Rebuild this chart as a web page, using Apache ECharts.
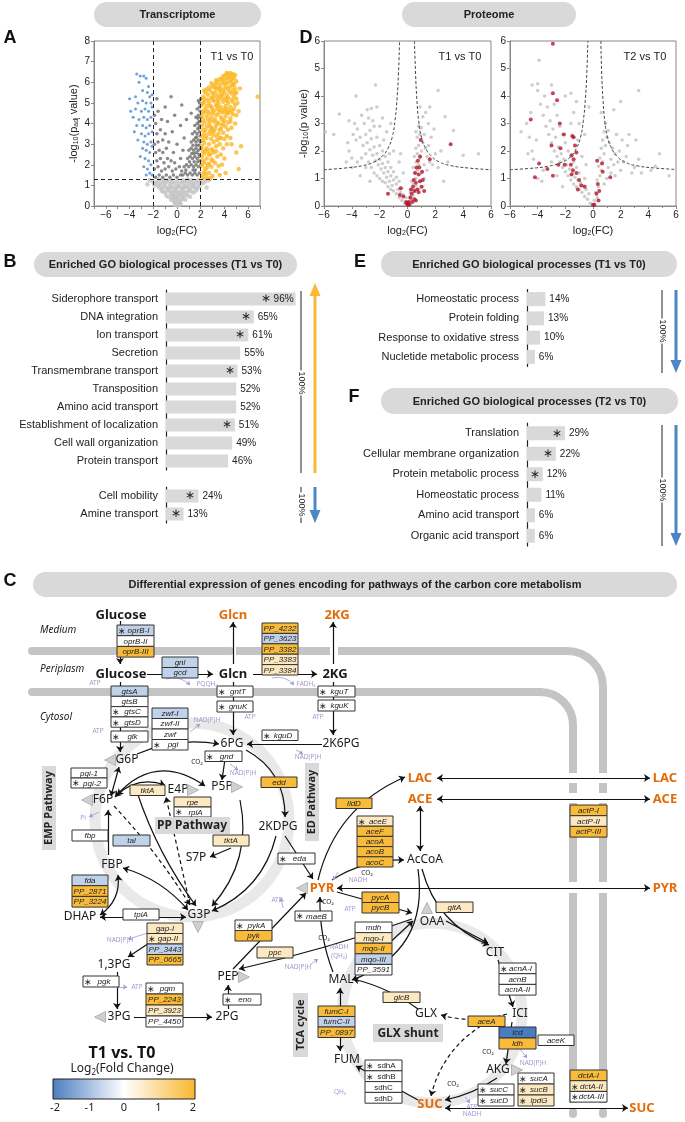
<!DOCTYPE html>
<html>
<head>
<meta charset="utf-8">
<script src="https://cdn.jsdelivr.net/npm/echarts@6/dist/echarts.min.js"></script>
<style>
html, body { margin: 0; padding: 0; background: #fff; }
#chart { width: 685px; height: 1122px; }
</style>
</head>
<body>
<div id="chart"></div>
<script>
const FONT = '"Liberation Sans", Arial, sans-serif';
const DFONT = '"Noto Sans", "Open Sans", sans-serif';

// ---------- A: transcriptome volcano, T1 vs T0 (log2FC, -log10 padj)
const aLight = [[-0.2,0.05],[0,0.02],[0.2,0.05],[0.1,0.12],[-0.1,0.15],[0.3,0.1],[0,0.4],[0.2,0.2],
  [-0.5,0.3],[-0.3,0.25],[-0.1,0.35],[0.1,0.3],[0.3,0.28],[0.5,0.35],[0.7,0.3],
  [-0.9,0.5],[-0.7,0.45],[-0.5,0.55],[-0.3,0.5],[-0.1,0.45],[0.1,0.55],[0.3,0.5],[0.5,0.45],[0.7,0.55],[0.9,0.5],[1.1,0.45],
  [-1.2,0.7],[-1.0,0.65],[-0.8,0.75],[-0.6,0.7],[-0.4,0.65],[-0.2,0.75],[0,0.7],[0.2,0.65],[0.4,0.75],[0.6,0.7],[0.8,0.65],[1.0,0.75],[1.2,0.7],[1.4,0.65],[-0.2,0.6],
  [-1.5,0.9],[-1.3,0.85],[-1.1,0.95],[-0.9,0.9],[-0.7,0.85],[-0.5,0.95],[-0.3,0.9],[-0.1,0.85],[0.1,0.95],[0.3,0.9],[0.5,0.85],[0.7,0.95],[0.9,0.9],[1.1,0.85],[1.3,0.95],[1.5,0.9],[1.7,0.85],
  [-2.0,1.15],[-1.8,1.1],[-1.6,1.2],[-1.4,1.05],[-1.2,1.15],[-1.0,1.1],[-0.8,1.2],[-0.6,1.05],[-0.4,1.15],[-0.2,1.1],[0,1.2],[0.2,1.05],[0.4,1.15],[0.6,1.1],[0.8,1.2],[1.0,1.05],[1.2,1.15],[1.4,1.1],[1.6,1.2],[1.8,1.05],[2.0,1.15],[2.2,1.1],[2.4,1.2],
  [-2.3,1.25],[2.7,1.25],[-1.9,1.0],[1.9,0.95],[-1.3,0.75],[1.6,0.75],[2.5,0.9],[-2.5,1.05],[0.5,1.25],[-0.5,1.25],[1.2,1.25],[-1.2,1.28],
  [-0.4,0.4],[0.4,0.6],[-0.6,0.85],[0.6,0.95],[-1.6,1.0],[1.4,1.0],[-0.9,1.25],[0.9,1.28],[0,0.95],[-0.2,0.25],[1.8,1.25],[-1.5,1.28]];
const aDark = [[0.5,1.5],[0.7,1.6],[0.9,1.5],[1.1,1.6],[1.3,1.5],[1.5,1.6],[1.7,1.5],[1.9,1.6],
  [0.6,1.9],[0.8,2.0],[1.0,1.9],[1.2,2.0],[1.4,1.9],[1.6,2.0],[1.8,1.9],[2.0,2.0],
  [0.9,2.3],[1.1,2.4],[1.3,2.3],[1.5,2.4],[1.7,2.3],[1.9,2.4],
  [1.0,2.7],[1.2,2.8],[1.4,2.7],[1.6,2.8],[1.8,2.7],[2.0,2.8],
  [1.2,3.1],[1.4,3.2],[1.6,3.1],[1.8,3.2],[1.95,3.1],[1.3,3.5],[1.5,3.6],[1.7,3.5],[1.9,3.6],
  [1.5,3.9],[1.7,4.0],[1.9,3.9],[1.6,4.3],[1.8,4.4],[2.0,4.3],[1.7,4.7],[1.9,4.8],[1.8,5.1],[2.0,5.2],
  [1.95,4.6],[1.85,4.1],[1.55,3.3],[1.25,2.55],[0.75,1.75],[1.45,2.15],[1.65,2.6],[1.85,2.95],[1.75,3.75],[1.35,1.75],[1.05,2.15],
  [1.55,1.75],[1.75,2.15],[1.95,2.2],[1.45,2.55],[1.85,2.5],[1.65,2.95],[1.35,2.95],[1.95,3.4],[1.65,3.35],[1.85,3.8],[1.95,4.1],[1.75,4.25],[1.9,5.0],
  [-1.8,1.4],[-1.5,1.5],[-1.2,1.4],[-0.9,1.5],[-0.6,1.4],[-0.3,1.5],[0.0,1.4],[0.3,1.5],
  [-1.9,1.8],[-1.6,1.9],[-1.3,1.7],[-1.0,1.8],[-0.7,1.9],[-0.4,1.7],[-0.1,1.8],[0.2,1.9],[0.4,1.7],
  [-1.7,2.2],[-1.4,2.3],[-1.1,2.1],[-0.8,2.3],[-0.5,2.2],[-0.2,2.1],[0.3,2.3],
  [-1.8,2.6],[-1.5,2.7],[-1.2,2.6],[-0.9,2.8],[-0.3,2.6],[0.5,2.7],
  [-1.9,3.0],[-1.6,3.1],[-1.2,3.2],[-0.7,3.1],[0.0,3.0],[0.6,3.3],
  [-1.7,3.5],[-1.4,3.7],[-1.0,3.5],[-0.4,3.6],[0.3,3.9],
  [-1.8,4.0],[-1.3,4.2],[-0.8,4.1],[-0.2,4.4],[0.8,4.2],[1.2,4.5],
  [-1.6,4.6],[-1.0,4.8],[-1.7,5.2],[-0.5,5.3],[0.4,4.9],[-1.9,4.4]];
const aBlue = [[-3.4,6.4],[-3.1,6.3],[-2.8,6.3],[-2.6,6.2],[-3.2,6.0],[-2.3,5.3],[-2.1,5.4],[-2.5,5.5],[-4.0,5.2],[-3.3,5.0],
  [-2.9,5.1],[-2.6,5.0],[-2.2,5.0],[-3.5,4.7],[-3.0,4.6],[-2.7,4.7],[-2.4,4.6],[-2.1,4.8],[-3.7,4.3],[-3.2,4.2],
  [-2.8,4.3],[-2.5,4.2],[-2.2,4.3],[-3.4,3.9],[-2.9,3.9],[-2.6,3.8],[-2.3,3.9],[-3.6,3.6],[-3.0,3.5],[-2.7,3.4],
  [-2.4,3.5],[-2.1,3.6],[-3.3,3.2],[-2.8,3.1],[-2.5,3.0],[-2.2,3.1],[-2.9,2.8],[-2.6,2.7],[-2.3,2.6],[-2.1,2.9],
  [-3.1,2.4],[-2.7,2.3],[-2.4,2.2],[-2.2,2.0],[-2.5,1.8],[-2.8,1.9],[-2.3,1.6],[-2.1,1.5],[-2.6,1.5],[-3.9,4.6],
  [-3.5,5.3],[-2.4,5.8],[-2.9,5.6]];
const aYellow = [[3.9,6.3],[4.1,6.35],[4.3,6.4],[4.5,6.45],[4.7,6.4],[4.9,6.35],[4.4,6.25],[4.6,6.3],[4.8,6.2],[4.2,6.2],[3.6,6.15],[4.0,6.1],
  [3.0,5.8],[3.2,5.9],[3.4,6.0],[3.6,5.85],[3.8,6.0],[4.0,5.9],[4.2,5.95],[4.4,6.05],[4.6,6.0],[4.8,5.9],[5.0,6.05],[3.3,5.7],[3.7,5.7],[4.1,5.75],[4.5,5.8],[4.9,5.7],[2.7,5.75],
  [2.2,5.3],[2.4,5.5],[2.6,5.4],[2.8,5.6],[3.0,5.45],[3.2,5.5],[3.4,5.35],[3.6,5.55],[3.8,5.4],[4.0,5.5],[4.2,5.35],[4.4,5.55],[4.6,5.45],[4.8,5.3],[5.0,5.5],[2.3,5.2],[2.9,5.25],[3.5,5.2],[4.1,5.2],[4.7,5.6],
  [2.1,4.9],[2.3,5.05],[2.5,4.85],[2.7,5.0],[2.9,4.8],[3.1,5.1],[3.3,4.9],[3.5,5.0],[3.7,4.8],[3.9,5.05],[4.1,4.85],[4.3,5.0],[4.5,4.8],[4.7,5.05],[4.9,4.9],[5.1,5.0],[2.4,4.7],[3.0,4.7],[3.6,4.65],[4.2,4.7],[4.8,4.7],
  [2.1,4.4],[2.3,4.55],[2.5,4.35],[2.7,4.5],[2.9,4.3],[3.1,4.6],[3.3,4.4],[3.5,4.5],[3.7,4.3],[3.9,4.55],[4.1,4.35],[4.3,4.5],[4.5,4.25],[4.7,4.45],[5.0,4.4],[2.6,4.2],[3.2,4.2],[3.8,4.2],[4.4,4.6],
  [2.1,3.9],[2.3,4.05],[2.5,3.85],[2.7,4.0],[2.9,3.8],[3.1,4.1],[3.3,3.9],[3.5,4.0],[3.7,3.75],[3.9,4.0],[4.1,3.85],[4.3,4.05],[4.6,3.8],[4.9,4.0],[2.4,3.7],[3.0,3.7],[3.6,3.7],
  [2.1,3.4],[2.3,3.55],[2.5,3.3],[2.7,3.5],[2.9,3.25],[3.1,3.6],[3.3,3.4],[3.5,3.5],[3.7,3.3],[3.9,3.55],[4.2,3.4],[4.5,3.3],[2.2,3.2],[2.8,3.65],[3.4,3.2],
  [2.1,2.9],[2.3,3.05],[2.5,2.8],[2.7,3.0],[2.9,2.75],[3.1,3.1],[3.3,2.9],[3.6,3.0],[3.9,2.8],[4.2,3.0],[4.6,3.0],[5.4,2.9],[2.4,2.7],[3.0,2.7],
  [2.1,2.4],[2.3,2.55],[2.5,2.3],[2.7,2.5],[2.9,2.25],[3.1,2.6],[3.4,2.4],[3.7,2.5],[4.0,2.3],[2.2,2.2],[2.6,2.65],[5.0,2.6],
  [2.1,1.95],[2.3,2.1],[2.5,1.85],[2.7,2.05],[2.9,1.9],[3.2,2.1],[3.5,1.95],[3.8,2.0],[5.2,1.8],[2.4,1.8],
  [2.1,1.5],[2.3,1.65],[2.5,1.4],[2.7,1.6],[3.0,1.45],[3.3,1.7],[3.6,1.5],[2.2,1.35],[2.8,1.35],[4.1,1.6],
  [2.2,5.0],[2.6,5.15],[3.0,5.15],[3.4,5.1],[3.8,5.2],[4.2,5.1],[4.6,5.15],[5.0,5.2],[2.2,4.6],[2.6,4.6],[3.0,4.5],[3.4,4.7],
  [3.8,4.6],[4.2,4.55],[4.6,4.6],[2.2,4.2],[2.8,4.15],[3.4,4.05],[4.0,4.15],[4.5,4.1],[2.2,3.7],[2.8,3.85],[3.2,3.75],[3.8,3.9],
  [4.3,3.7],[2.4,3.4],[3.0,3.45],[3.6,3.3],[4.0,3.25],[2.2,2.65],[2.8,2.5],[3.3,2.65],[2.6,2.0],[3.0,2.2],[2.4,1.55],[3.2,5.75],
  [3.5,5.7],[3.9,5.6],[4.3,5.7],[4.7,5.85],[3.1,5.3],[3.7,5.35],[4.3,5.25],[4.9,5.45],[3.8,6.2],[4.2,6.45],[4.6,6.15],[2.5,5.65],
  [2.9,5.95],[3.3,6.1],[2.3,5.6],[4.0,4.7],[3.4,4.85],[2.8,4.85],
  [6.8,5.3],[5.3,5.7],[5.2,4.6]];
const aCuts = { fcLow: -2, fcHigh: 2, p: 1.3 };

// ---------- D: proteome volcanoes (log2FC, -log10 p)
const d1Gray = [[-0.2,0.1],[0.1,0.15],[-0.4,0.2],[0.3,0.2],[-0.1,0.3],[0.2,0.35],[-0.6,0.3],[-0.3,0.4],[0.4,0.4],
  [-0.8,0.45],[-0.5,0.5],[-1.0,0.55],[-0.7,0.6],[-1.2,0.6],[-0.4,0.65],[0.5,0.55],[0.3,0.6],[0.6,0.75],
  [-1.4,0.7],[-1.1,0.75],[-0.8,0.8],[-1.6,0.85],[-1.3,0.9],[-1.0,0.95],[-0.6,0.9],[-1.8,0.9],[-2.0,1.0],[-1.5,1.05],[-1.2,1.1],[-0.8,1.05],
  [-2.2,1.1],[-1.7,1.2],[-1.4,1.25],[-1.0,1.25],[-2.4,1.2],[-1.9,1.35],[-1.6,1.4],[-1.2,1.4],[-2.1,1.5],[-1.8,1.55],[-1.4,1.6],
  [-2.6,1.4],[-2.3,1.65],[-2.0,1.7],[-1.6,1.8],[-2.8,1.6],[-2.5,1.85],[-2.2,1.9],[-1.8,2.0],[-1.3,1.9],[-3.0,1.9],[-2.7,2.05],
  [-2.4,2.15],[-2.0,2.2],[-3.2,2.2],[-2.9,2.3],[-2.6,2.45],[-2.2,2.5],[-1.7,2.4],[-3.4,2.5],[-3.0,2.6],[-2.7,2.75],[-2.4,2.9],
  [-3.6,2.8],[-3.1,3.0],[-2.8,3.2],[-2.5,3.1],[-3.3,3.3],[-2.9,3.5],[-2.6,3.55],[-3.8,3.0],[-4.2,2.0],[-4.0,1.75],[-3.6,1.6],
  [-3.3,1.75],[-4.3,2.3],[-3.7,2.4],[-4.4,1.6],[-3.9,2.6],[-2.0,2.9],[-1.5,2.7],[-1.0,2.0],[-0.6,1.6],[-0.3,1.2],[-0.5,1.9],
  [-1.2,3.0],[-1.8,3.2],[-2.2,3.6],[-2.3,4.4],[-3.7,4.0],[-5.3,2.6],[-5.9,2.7],[-4.9,3.35],[-4.2,3.1],[-4.0,1.4],[-3.0,1.4],
  [-2.7,0.9],[-3.4,1.1],
  [0.2,0.5],[0.4,0.8],[0.6,1.0],[0.3,0.9],[0.5,1.2],[0.7,1.3],[0.4,1.4],[0.6,1.6],[0.8,1.5],[0.5,1.8],[0.7,1.9],[0.9,1.75],
  [0.6,2.1],[0.8,2.2],[1.0,2.0],[0.7,2.5],[0.9,2.6],[1.1,2.3],[0.8,2.9],[1.0,2.85],[0.6,2.7],[1.2,2.6],[1.3,2.1],[1.5,2.2],
  [1.4,1.8],[1.6,1.6],[1.2,1.5],[1.0,1.2],[0.9,0.9],[1.2,1.0],[1.4,1.3],[0.8,0.6],[1.1,0.7],[0.3,0.3],[1.8,1.5],[2.0,1.9],
  [1.7,2.5],[1.9,2.8],[2.2,1.4],[2.4,2.0],[1.5,3.0],[2.2,4.2],[1.6,3.6],[2.7,3.25],[3.3,2.75],[5.1,1.9],[4.0,1.85],[2.9,1.6],
  [2.6,0.9],[1.3,3.4],[1.1,3.25],[0.9,3.6]];
const d1Red = [[0.0,0.05],[-0.05,0.1],[0.05,0.08],[0.1,0.15],[-0.1,0.15],[0.15,0.05],[0.2,0.3],[0.3,0.45],[0.25,0.6],[0.4,0.7],
  [0.5,0.55],[0.45,0.95],[0.55,1.2],[0.6,0.85],[0.7,0.6],[0.65,1.4],[0.8,1.15],[0.75,1.65],[0.85,1.4],[0.9,1.8],[0.95,2.4],
  [0.9,0.9],[1.1,0.95],[1.0,0.7],[1.2,0.55],[0.5,0.25],[0.8,0.5],[-0.3,0.35],[-0.5,0.65],[-0.55,0.4],[-1.4,0.45],[1.6,1.7],
  [3.1,2.25],[0.6,0.2],[0.35,0.15],[1.05,1.25]];
const d1CutL = [[-6,1.32],[-4.5,1.38],[-3.2,1.47],[-2.4,1.6],[-1.8,1.82],[-1.4,2.1],[-1.1,2.5],[-0.9,3.1],[-0.75,3.9],[-0.65,4.8],[-0.57,6]];
const d1CutR = [[0.5,6],[0.58,4.8],[0.67,3.9],[0.8,3.1],[1.0,2.5],[1.3,2.1],[1.7,1.82],[2.3,1.6],[3.1,1.47],[4.4,1.38],[6,1.32]];
const d2Gray = [[-0.2,0.1],[0.1,0.2],[-0.4,0.25],[0.3,0.3],[-0.6,0.35],[-0.3,0.45],[-0.8,0.5],[-0.5,0.6],[-1.0,0.6],[-0.7,0.75],
  [-1.2,0.7],[-0.9,0.85],[-1.4,0.8],[-1.1,0.95],[-0.6,1.0],[-1.6,0.95],[-1.3,1.05],[-1.8,1.1],[-1.5,1.2],[-1.0,1.2],[-2.0,1.25],
  [-1.7,1.35],[-1.2,1.4],[-2.2,1.4],[-1.9,1.5],[-1.4,1.6],[-2.4,1.6],[-2.1,1.7],[-1.6,1.8],[-2.6,1.8],[-2.3,1.9],[-1.8,2.0],
  [-2.8,2.0],[-2.5,2.15],[-2.0,2.3],[-3.0,2.3],[-2.7,2.5],[-2.2,2.6],[-3.2,2.6],[-2.9,2.8],[-2.4,2.9],[-3.4,2.9],[-3.1,3.1],
  [-2.6,3.3],[-3.6,3.3],[-3.3,3.6],[-2.8,3.7],[-3.8,3.7],[-3.5,4.0],[-4.0,4.2],[-1.4,3.4],[-1.6,3.0],[-1.1,2.4],[-0.8,1.8],
  [-0.5,1.5],[-1.0,3.0],[-0.6,2.6],[-1.2,3.8],[-3.9,5.3],[-4.4,4.4],[-4.0,4.45],[-3.0,4.4],[-2.0,4.0],[-4.8,3.0],[-5.2,2.7],
  [-4.6,2.5],[-4.4,2.0],[-4.3,1.7],[-4.0,1.0],[-3.6,1.3],[-3.0,1.6],[-2.6,1.1],[-4.7,1.9],[-4.1,2.4],[-3.7,0.9],[-2.2,0.7],
  [-4.5,3.4],[-0.3,3.6],[-1.6,4.1],
  [0.2,0.5],[0.4,0.7],[0.3,0.95],[0.5,1.1],[0.6,1.3],[0.4,1.45],[0.7,1.6],[0.5,1.75],[0.8,1.9],[0.6,2.1],[0.9,2.2],[0.7,2.4],
  [1.0,2.5],[0.8,2.7],[1.1,2.75],[0.9,3.0],[1.2,2.3],[1.4,2.1],[1.6,1.9],[1.3,1.7],[1.5,1.5],[1.8,1.6],[1.1,1.4],[1.0,1.0],
  [1.3,1.2],[0.8,0.8],[1.6,1.1],[2.0,1.3],[1.9,2.0],[2.2,1.6],[2.4,1.8],[2.1,2.4],[2.5,2.2],[1.7,2.6],[2.6,2.6],[2.8,1.2],
  [3.0,1.4],[3.3,1.7],[3.5,1.2],[2.0,3.8],[3.3,4.2],[3.1,2.4],[4.2,1.3],[4.8,1.9],[5.5,1.1],[4.5,1.45],[1.5,3.5],[0.6,3.4]];
const d2Red = [[-2.9,5.9],[-2.9,4.1],[-2.6,3.85],[-4.5,3.15],[-2.4,3.0],[-2.1,2.6],[-1.5,2.55],[-1.4,2.5],[-3.0,2.2],[-2.35,2.1],
  [-1.3,2.2],[-1.2,1.95],[-1.55,1.85],[-1.4,1.7],[-3.9,1.55],[-2.05,1.5],[-1.6,1.5],[-2.5,1.5],[-3.3,1.35],[-1.45,1.3],
  [-1.55,1.15],[-2.9,1.1],[-4.2,1.05],[-1.2,1.2],[-1.0,0.95],[-0.85,0.75],[-0.6,0.7],[-1.1,0.6],[0.0,0.05],[0.1,0.05],
  [0.25,0.45],[0.35,0.8],[0.45,0.55],[0.65,1.55],[0.7,1.25],[0.3,1.65],[1.25,1.05],[0.4,0.2]];
const d2CutL = [[-6,1.32],[-4.5,1.37],[-3.2,1.45],[-2.3,1.58],[-1.6,1.8],[-1.2,2.1],[-0.9,2.5],[-0.7,3.1],[-0.55,3.9],[-0.45,4.8],[-0.37,6]];
const d2CutR = [[0.57,6],[0.63,4.8],[0.72,3.9],[0.85,3.1],[1.05,2.5],[1.35,2.1],[1.75,1.8],[2.4,1.58],[3.2,1.46],[4.5,1.38],[6,1.33]];

// ---------- B, E, F: enriched GO processes (%), star = significant
const bUpNames = ['Siderophore transport','DNA integration','Ion transport','Secretion','Transmembrane transport','Transposition','Amino acid transport','Establishment of localization','Cell wall organization','Protein transport'];
const bUpValues = [96,65,61,55,53,52,52,51,49,46];
const bUpStar = [1,1,1,0,1,0,0,1,0,0];
const bDownNames = ['Cell mobility','Amine transport'];
const bDownValues = [24,13];
const bDownStar = [1,1];
const eNames = ['Homeostatic process','Protein folding','Response to oxidative stress','Nucletide metabolic process'];
const eValues = [14,13,10,6];
const eStar = [0,0,0,0];
const fNames = ['Translation','Cellular membrane organization','Protein metabolic process','Homeostatic process','Amino acid transport','Organic acid transport'];
const fValues = [29,22,12,11,6,6];
const fStar = [1,1,1,0,0,0];

// ---------- C: genes per reaction box and their log2 fold change (T1 vs T0)
const geneGroups = [
  ['*oprB-I','oprB-II','oprB-III'], ['gnl','gcd'], ['PP_4232','PP_3623','PP_3382','PP_3383','PP_3384'],
  ['gtsA','gtsB','*gtsC','*gtsD'], ['*glk'], ['zwf-I','zwf-II','zwf','*pgl'],
  ['*gntT'], ['*gnuK'], ['*kguT'], ['*kguK'], ['*kguD'], ['*gnd'],
  ['pgi-1','*pgi-2'], ['tktA'], ['rpe','*rpiA'], ['edd'], ['lldD'], ['*aceE','aceF','acoA','acoB','acoC'],
  ['fbp'], ['tal'], ['tktA'], ['*eda'], ['fda','PP_2871','PP_3224'], ['tpiA'],
  ['gap-I','*gap-II','PP_3443','PP_0665'], ['*pgk'], ['*pgm','PP_2243','PP_3923','PP_4450'],
  ['*pykA','pyk'], ['ppc'], ['*eno'], ['*maeB'], ['pycA','pycB'], ['gltA'],
  ['mdh','mqo-I','mqo-II','mqo-III','PP_3591'], ['*acnA-I','acnB','acnA-II'], ['glcB'], ['aceA'],
  ['icd','ldh'], ['aceK'], ['fumC-I','fumC-II','PP_0897'], ['*sdhA','*sdhB','sdhC','sdhD'],
  ['*sucC','*sucD'], ['*sucA','*sucB','*lpdG'], ['actP-I','actP-II','actP-III'], ['dctA-I','*dctA-II','*dctA-III']
];
const geneFC = [
  [-0.7,0,1.9], [-0.7,-0.7], [1.9,-0.7,1.9,0.6,0.6],
  [-0.7,0,0,0], [0], [-0.7,0,0,0],
  [0], [0], [0], [0], [0], [0],
  [0,0], [0.6], [0.6,0], [1.9], [1.9], [0.6,1.9,1.9,1.9,1.9],
  [0], [-0.7], [0.6], [0], [-0.7,1.9,1.9], [0],
  [0.6,0.6,-0.7,1.9], [0], [0,1.9,0.6,0],
  [0,1.9], [0.6], [0], [0], [1.9,1.9], [0.6],
  [0,0.6,1.9,-0.7,0], [0,0,0], [0.6], [1.9],
  [-2,1.9], [0], [1.9,-0.7,1.9], [0,0,0,0],
  [0,0], [0,0.6,0.6], [1.9,0.6,1.9], [1.9,0.6,0]
];
const legendTicks = [-2,-1,0,1,2];
const FC_BLUE = '#4a7dc0', FC_MID = '#ffffff', FC_ORANGE = '#f9b730';

// ---------- diagram layout (pixel positions of the drawing)
const boxLayout = [ // x, y, width, row height
  [117,625,37,10.7],[162,657,36,10.5],[262,623,36,10.4],[111,686,37,10.3],[111,731,37,11],[152,708,36,10.5],
  [217,686,36,11],[217,701,36,11],[318,686,37,11],[318,700,37,11],[262,730,36,10.5],[205,751,37,10.5],
  [71,768,36,10],[130,785,35,10.5],[174,797,37,10],[261,777,36,10.5],[336,798,36,10.5],[357,816,36,10.2],
  [72,830,36,11],[113,835,37,11],[213,835,36,11],[278,853,37,11],[72,875,36,10.7],[123,909,36,11],
  [147,923,36,10.5],[83,976,36,11],[146,983,37,11],[235,920,37,10.5],[257,947,36,11],[223,994,38,11],
  [295,911,37,10],[362,892,37,10.5],[436,902,37,10.5],[355,922,37,10.6],[499,963,37,10.7],[383,992,37,10.5],
  [468,1016,37,10.5],[499,1027,37,11],[538,1035,36,10.5],[318,1006,37,10.5],[365,1060,37,10.8],[478,1084,36,11],
  [518,1073,36,11],[570,805,37,10.7],[570,1070,37,10.7]
];
const uprightGenes = ['sdhA','sdhB','sdhC','sdhD'];
const metabolites = [
  ['Glucose',121,615,'b'],['Glcn',233,615,'o'],['2KG',337,615,'o'],
  ['Glucose',121,674,'b'],['Glcn',233,674,'b'],['2KG',335,674,'b'],
  ['6PG',232,744,'n'],['2K6PG',341,744,'n'],['G6P',127,760,'n'],['F6P',103,800,'n'],
  ['E4P',178,790,'n'],['P5P',222,787,'n'],['2KDPG',278,827,'n'],['S7P',196,858,'n'],
  ['FBP',112,865,'n'],['G3P',199,915,'n'],['DHAP',80,917,'n'],['1,3PG',114,965,'n'],
  ['3PG',119,1017,'n'],['2PG',227,1017,'n'],['PEP',228,977,'n'],['PYR',322,888,'o'],
  ['LAC',420,778,'o'],['ACE',420,799,'o'],['LAC',665,778,'o'],['ACE',665,799,'o'],['PYR',665,888,'o'],
  ['AcCoA',425,860,'n'],['OAA',432,922,'n'],['CIT',495,953,'n'],['ICI',520,1014,'n'],
  ['AKG',498,1070,'n'],['GLX',426,1014,'n'],['MAL',341,980,'n'],['FUM',347,1060,'n'],
  ['SUC',430,1104,'o'],['SUC',642,1108,'o']
];
const triangles = [[110,760,'l'],[87,800,'l'],[193,790,'r'],[237,787,'r'],[198,927,'d'],[100,1017,'l'],[244,977,'r'],[302,888,'l'],[427,908,'u'],[517,1070,'r']];
const cofactors = [
  ['ATP',95,683,'p'],['PQQH₂',207,684,'p'],['FADH₂',306,684,'p'],['ATP',250,717,'p'],['ATP',318,717,'p'],['ATP',98,731,'p'],
  ['NAD(P)H',207,720,'p'],['NAD(P)H',308,757,'p'],['CO₂',197,762,'k'],['NAD(P)H',243,773,'p'],['Pi',83,818,'p'],
  ['NAD(P)H',120,940,'p'],['ATP',137,987,'p'],['ATP',277,900,'p'],['CO₂',328,902,'k'],['ATP',350,909,'p'],['CO₂',324,938,'k'],
  ['NADH',339,947,'p'],['(QH₂)',339,956,'p'],['NAD(P)H',298,967,'p'],['CO₂',367,873,'k'],['NADH',358,880,'p'],
  ['CO₂',488,1052,'k'],['NAD(P)H',533,1063,'p'],['CO₂',453,1084,'k'],['ATP',472,1107,'p'],['NADH',472,1114,'p'],['QH₂',340,1092,'p']
];
const arrowsOne = [ // x1, y1, x2, y2, curveness
  [120,621,120,664,0],[147,674,213,674,0],[233,664,233,622,0],[253,674,317,674,0],[333,664,333,622,0],
  [120,682,120,752,0],[233,682,233,735,0],[333,682,333,735,0],[322,744,247,744,0],[137,754,219,744,0.15],
  [226,752,222,780,0],[246,750,285,817,0.3],[285,836,313,879,0],[276,836,212,911,0.25],[240,800,212,906,0.25],
  [231,848,210,857,0],[137,792,196,906,-0.08],[108,855,108,810,0],[178,924,128,957,0],[117,972,117,1009,0],
  [134,1017,212,1017,0],[228,1009,228,985,0],[233,969,306,893,0],[412,919,239,969,0.03],[318,880,405,777,0.25],
  [332,880,404,860,0.15],[337,892,412,913,0],[333,972,320,897,0.1],[355,975,413,921,0],[418,869,352,980,0.4],
  [422,869,489,945,-0.25],[446,921,488,943,0],[498,960,513,1007,0],[512,1022,506,1064,0],[418,1009,353,979,-0.1],
  [497,1078,445,1100,0.1],[418,1100,356,1066,0]
];
const arrowsTwo = [
  [111,796,119,767,0],[117,795,165,785,0.3],[115,797,205,786,0.45],[123,868,188,910,0.15],[118,875,100,915,0.3],
  [100,917,186,917,0],[420,851,420,806,0],[437,778,650,778,0],[437,799,650,799,0],[337,888,650,888,0],
  [340,1051,340,988,0],[445,1108,628,1108,0]
];
const arrowsDash = [[114,806,190,905,0.05],[190,905,166,797,0],[507,1014,441,1015,0.15],[481,1026,431,1096,-0.2]];
const arrowsCofactor = [
  [166,679,190,685,0.3],[272,678,294,685,0.3],[190,732,200,724,0],[230,764,238,770,0],[296,750,303,754,0],
  [99,812,89,817,0],[148,933,128,939,0],[117,987,127,987,0],[283,908,281,898,0],[310,965,318,959,0],
  [338,872,333,880,0],[520,1049,527,1058,0],[465,1097,470,1103,0]
];

// ---------- helpers
const G = [];
function txt(t, x, y, o) {
  o = o || {};
  G.push({
    type: 'text', z: o.z || 60, x: x, y: y, rotation: o.rot || 0,
    style: {
      text: t, fill: o.fill || '#222', font: o.font || ('11px ' + FONT),
      align: o.align || 'center', textAlign: o.align || 'center',
      verticalAlign: 'middle', textVerticalAlign: 'middle',
      backgroundColor: o.bg, padding: o.pad, rich: o.rich
    }
  });
}
function rect(x, y, w, h, fill, r, z) {
  G.push({ type: 'rect', z: z || 1, shape: { x: x, y: y, width: w, height: h, r: r || 0 }, style: { fill: fill } });
}
function line(x1, y1, x2, y2, color, width, cap, z) {
  G.push({ type: 'line', z: z || 1, shape: { x1: x1, y1: y1, x2: x2, y2: y2 }, style: { stroke: color, lineWidth: width, lineCap: cap || 'butt' } });
}
function pill(x, y, w, h, text) {
  rect(x, y, w, h, '#d9d9d9', h / 2, 1);
  txt(text, x + w / 2, y + h / 2 + 0.5, { font: 'bold 11px ' + FONT });
}
function scaleBar(x, y1, y2, ty) {
  line(x, y1, x, y2, '#222', 1);
  txt('100%', x, ty, { font: '9px ' + FONT, rot: -Math.PI / 2, bg: '#fff', pad: [0, 1] });
}
function bigArrow(x, y1, y2, color) {
  const dir = y2 < y1 ? -1 : 1;
  line(x, y1, x, y2 - dir * 10, color, 3);
  G.push({ type: 'polygon', z: 1, shape: { points: [[x - 5.5, y2 - dir * 13], [x + 5.5, y2 - dir * 13], [x, y2]] }, style: { fill: color } });
}
const minus = v => (v < 0 ? '\u2212' + Math.abs(v) : String(v));
const subRich = { s: { fontSize: 7, padding: [6, 0, 0, 0], fontFamily: FONT, color: '#222' } };

// ---------- titles and panel letters
pill(94, 2, 167, 25, 'Transcriptome');
pill(402, 2, 174, 25, 'Proteome');
pill(34, 252, 263, 25, 'Enriched GO biological processes (T1 vs T0)');
pill(381, 251, 296, 26, 'Enriched GO biological processes (T1 vs T0)');
pill(381, 388, 297, 26, 'Enriched GO biological processes (T2 vs T0)');
pill(33, 572, 644, 25, 'Differential expression of genes encoding for pathways of the carbon core metabolism');
[['A', 10, 38], ['D', 306, 38], ['B', 10, 262], ['E', 360, 262], ['C', 10, 581], ['F', 354, 397]].forEach(l => txt(l[0], l[1], l[2], { font: 'bold 18px ' + FONT, fill: '#111' }));
txt('T1 vs T0', 232, 57, { font: '11px ' + FONT });
txt('T1 vs T0', 460, 57, { font: '11px ' + FONT });
txt('T2 vs T0', 645, 57, { font: '11px ' + FONT });

// bar panel scale bars and direction arrows
scaleBar(301, 291, 473, 383);
scaleBar(301, 487, 523, 505);
bigArrow(315, 473, 283, '#f9b934');
bigArrow(315, 487, 523, '#4b87c5');
scaleBar(662, 290, 373, 331);
bigArrow(676, 290, 373, '#4b87c5');
scaleBar(662, 425, 546, 490);
bigArrow(676, 425, 546, '#4b87c5');

// ---------- diagram background: membranes and pathway rings
const MEM = '#c4c4c4';
line(32, 651, 230, 651, MEM, 8, 'round'); line(236, 651, 330, 651, MEM, 8); line(338, 651, 567, 651, MEM, 8);
line(32, 692, 540, 692, MEM, 8, 'round');
G.push({ type: 'arc', z: 1, shape: { cx: 567, cy: 687, r: 36, startAngle: -Math.PI / 2, endAngle: 0, clockwise: true }, style: { stroke: MEM, lineWidth: 8, fill: 'none' } });
G.push({ type: 'arc', z: 1, shape: { cx: 540, cy: 725, r: 33, startAngle: -Math.PI / 2, endAngle: 0, clockwise: true }, style: { stroke: MEM, lineWidth: 8, fill: 'none' } });
[[603, 687], [573, 725]].forEach(v => {
  [[v[1], 773], [783, 793], [803, 882], [893, 1103]].forEach(s => line(v[0], s[0], v[0], s[1], MEM, 8));
  line(v[0], 1112, v[0], 1114, MEM, 8, 'round');
});
G.push({ type: 'circle', z: 1, shape: { cx: 192, cy: 820, r: 97 }, style: { fill: 'none', stroke: '#e9e9e9', lineWidth: 11 } });
G.push({ type: 'circle', z: 1, shape: { cx: 432, cy: 1013, r: 90 }, style: { fill: 'none', stroke: '#e9e9e9', lineWidth: 11 } });

// compartment names and pathway labels (label plates sit above the arrows)
txt('Medium', 40, 630, { font: 'italic 10px ' + DFONT, align: 'left' });
txt('Periplasm', 40, 669, { font: 'italic 10px ' + DFONT, align: 'left' });
txt('Cytosol', 40, 717, { font: 'italic 10px ' + DFONT, align: 'left' });
rect(42, 766, 14, 84, '#d9d9d9', 0, 55); txt('EMP Pathway', 49, 808, { font: 'bold 11px ' + DFONT, rot: Math.PI / 2 });
rect(155, 817, 75, 17, '#d9d9d9', 0, 55); txt('PP Pathway', 192, 826, { font: 'bold 12px ' + DFONT });
rect(305, 763, 14, 78, '#d9d9d9', 0, 55); txt('ED Pathway', 312, 802, { font: 'bold 11px ' + DFONT, rot: Math.PI / 2 });
rect(293, 993, 15, 64, '#d9d9d9', 0, 55); txt('TCA cycle', 300.5, 1025, { font: 'bold 11px ' + DFONT, rot: Math.PI / 2 });
rect(373, 1024, 70, 18, '#d9d9d9', 0, 55); txt('GLX shunt', 408, 1033.5, { font: 'bold 12px ' + DFONT });

metabolites.forEach(m => {
  const font = m[3] === 'n' ? '12px ' + DFONT : 'bold 13px ' + DFONT;
  txt(m[0], m[1], m[2], { font: font, fill: m[3] === 'o' ? '#e36c0a' : '#1a1a1a', z: 60 });
});
triangles.forEach(t => {
  const x = t[0], y = t[1], s = 5.5;
  const pts = { l: [[x + s, y - s], [x + s, y + s], [x - s, y]], r: [[x - s, y - s], [x - s, y + s], [x + s, y]],
    u: [[x - s, y + s], [x + s, y + s], [x, y - s]], d: [[x - s, y - s], [x + s, y - s], [x, y + s]] }[t[2]];
  G.push({ type: 'polygon', z: 60, shape: { points: pts }, style: { fill: '#cfcfcf', stroke: '#a8a8a8', lineWidth: 0.8 } });
});
cofactors.forEach(c => txt(c[0], c[1], c[2], { font: '6.5px ' + DFONT, fill: c[3] === 'p' ? '#a596cf' : '#222', z: 61 }));

// colour legend
txt('T1 vs. T0', 122, 1053, { font: 'bold 16px ' + DFONT, fill: '#111' });
txt('Log{s|2}(Fold Change)', 122, 1069, { font: '12px ' + DFONT, rich: { s: { fontSize: 8, padding: [7, 0, 0, 0], fontFamily: DFONT, color: '#222' } } });
G.push({ type: 'rect', z: 2, shape: { x: 53, y: 1079, width: 142, height: 20 },
  style: { stroke: '#222', lineWidth: 1, fill: { type: 'linear', x: 0, y: 0, x2: 1, y2: 0,
    colorStops: [{ offset: 0, color: FC_BLUE }, { offset: 0.5, color: FC_MID }, { offset: 1, color: FC_ORANGE }] } } });
legendTicks.forEach(v => txt(String(v), 55 + (v + 2) / 4 * 138, 1108, { font: '11px ' + DFONT }));

// ---------- gene box rows
const geneRows = [];
geneGroups.forEach((g, bi) => {
  const L = boxLayout[bi];
  g.forEach((name, ri) => geneRows.push({ name: name, value: [L[0], L[1] + ri * L[3], L[2], L[3], geneFC[bi][ri]] }));
});
function renderBox(params, api) {
  const row = geneRows[params.dataIndex];
  const p = api.coord([api.value(0), api.value(1)]);
  const w = api.value(2), h = api.value(3);
  const star = row.name.charAt(0) === '*';
  const label = star ? row.name.slice(1) : row.name;
  const upright = uprightGenes.indexOf(label) >= 0;
  const children = [
    { type: 'rect', shape: { x: p[0], y: p[1], width: w, height: h }, style: { fill: api.visual('color'), stroke: '#333', lineWidth: 1 } },
    { type: 'text', style: { x: p[0] + w / 2 + (star ? 3 : 0), y: p[1] + h / 2 + 0.5, text: label,
      align: 'center', textAlign: 'center', verticalAlign: 'middle', textVerticalAlign: 'middle',
      fill: '#222', font: (upright ? '' : 'italic ') + '8px ' + FONT } }
  ];
  if (star) children.push({ type: 'text', style: { x: p[0] + 4.5, y: p[1] + h / 2 + 1, text: '\u2217',
    align: 'center', textAlign: 'center', verticalAlign: 'middle', textVerticalAlign: 'middle', fill: '#222', font: '9px ' + FONT } });
  return { type: 'group', children: children };
}

// ---------- axes
const axisGray = { color: '#888' };
function volX(gi, min, max, interval, evenOnly) {
  return { gridIndex: gi, type: 'value', min: min, max: max, interval: interval,
    name: 'log{s|2}(FC)', nameLocation: 'middle', nameGap: 18,
    nameTextStyle: { fontFamily: FONT, fontSize: 11, color: '#222', rich: subRich },
    axisLine: { show: true, onZero: false, lineStyle: axisGray }, axisTick: { show: true, length: 3, lineStyle: axisGray },
    minorTick: { show: !evenOnly, splitNumber: 2, length: 2, lineStyle: axisGray },
    splitLine: { show: false },
    axisLabel: { fontFamily: FONT, fontSize: 10, color: '#222', margin: 4,
      formatter: v => (evenOnly && Math.abs(v) % 2 === 1) ? '' : minus(v) } };
}
function volY(gi, max, name) {
  return { gridIndex: gi, type: 'value', min: 0, max: max, interval: 1,
    name: name, nameLocation: 'middle', nameGap: 14, nameRotate: 90,
    nameTextStyle: { fontFamily: FONT, fontSize: 11, color: '#222', rich: subRich },
    axisLine: { show: true, onZero: false, lineStyle: axisGray }, axisTick: { show: true, length: 3, lineStyle: axisGray },
    splitLine: { show: false },
    axisLabel: { fontFamily: FONT, fontSize: 10, color: '#222', margin: 4 } };
}
function barX(gi) { return { gridIndex: gi, type: 'value', min: 0, max: 100, show: false }; }
function barY(gi, names) {
  return { gridIndex: gi, type: 'category', data: names, inverse: true,
    axisLine: { show: true, lineStyle: { color: '#222', width: 1.2 } }, axisTick: { show: false },
    axisLabel: { fontFamily: FONT, fontSize: 11, color: '#222', margin: 8 } };
}
function barSeries(gi, values, bw) {
  return { type: 'bar', xAxisIndex: gi, yAxisIndex: gi, barWidth: bw, barGap: '-100%',
    data: values.map(v => v > 90 ? { value: v, label: { position: 'insideRight', distance: 2 } } : v),
    itemStyle: { color: '#d9d9d9' },
    label: { show: true, position: 'right', distance: 4, formatter: '{c}%', fontFamily: FONT, fontSize: 10, color: '#222' } };
}
function starSeries(gi, values, stars, bw) {
  return { type: 'bar', xAxisIndex: gi, yAxisIndex: gi, barWidth: bw, barGap: '-100%', silent: true, z: 3,
    data: values.map((v, i) => ({ value: v, label: { show: !!stars[i], offset: v > 90 ? [-22, 0] : [0, 0] } })),
    itemStyle: { color: 'rgba(0,0,0,0)' },
    label: { show: true, position: 'insideRight', distance: 3, formatter: '\u2217', fontSize: 12, color: '#222' } };
}
function dots(gi, data, color, size, z) {
  return { type: 'scatter', xAxisIndex: gi, yAxisIndex: gi, data: data, symbolSize: size, itemStyle: { color: color }, z: z || 2, silent: true };
}
function cutLine(gi, data) {
  return { type: 'line', xAxisIndex: gi, yAxisIndex: gi, data: data, smooth: true, symbol: 'none', z: 4, silent: true,
    lineStyle: { color: '#444', width: 1, type: [3, 2] } };
}
function arrowSeries(list, symbols, style, size) {
  return { type: 'lines', coordinateSystem: 'cartesian2d', xAxisIndex: 7, yAxisIndex: 7, z: 3, silent: true,
    symbol: symbols, symbolSize: size,
    lineStyle: Object.assign({ opacity: 1 }, style),
    data: list.map(a => ({ coords: [[a[0], a[1]], [a[2], a[3]]], lineStyle: { curveness: a[4] } })) };
}

const series = [];
const aLightSeries = dots(0, aLight, '#c4c4c4', 4.5);
aLightSeries.markLine = { silent: true, symbol: 'none', label: { show: false }, lineStyle: { color: '#222', width: 1, type: [4, 3] },
  data: [{ xAxis: aCuts.fcLow }, { xAxis: aCuts.fcHigh }, { yAxis: aCuts.p }] };
series.push(aLightSeries, dots(0, aDark, '#6b6b6b', 3.5), dots(0, aBlue, '#4a8ad0', 3), dots(0, aYellow, '#fbb824', 4.5));
series.push(dots(1, d1Gray, '#c0c0c0', 3.5), dots(1, d1Red, '#b5152b', 4, 3), cutLine(1, d1CutL), cutLine(1, d1CutR));
series.push(dots(2, d2Gray, '#c0c0c0', 3.5), dots(2, d2Red, '#b5152b', 4, 3), cutLine(2, d2CutL), cutLine(2, d2CutR));
series.push(barSeries(3, bUpValues, 13), starSeries(3, bUpValues, bUpStar, 13));
series.push(barSeries(4, bDownValues, 13), starSeries(4, bDownValues, bDownStar, 13));
series.push(barSeries(5, eValues, 14), starSeries(5, eValues, eStar, 14));
series.push(barSeries(6, fValues, 14), starSeries(6, fValues, fStar, 14));
series.push(arrowSeries(arrowsOne, ['none', 'arrow'], { color: '#111', width: 1.2 }, 6));
series.push(arrowSeries(arrowsTwo, ['arrow', 'arrow'], { color: '#111', width: 1.2 }, 6));
series.push(arrowSeries(arrowsDash, ['none', 'arrow'], { color: '#111', width: 1.2, type: [4, 3] }, 6));
series.push(arrowSeries(arrowsCofactor, ['none', 'arrow'], { color: '#a596cf', width: 0.8 }, 4));
const boxSeriesIndex = series.length;
series.push({ type: 'custom', xAxisIndex: 7, yAxisIndex: 7, z: 5, silent: true, renderItem: renderBox,
  data: geneRows.map(r => r.value) });

const option = {
  animation: false,
  backgroundColor: '#fff',
  grid: [
    { left: 94, top: 41, width: 166, height: 165, show: true, borderColor: '#888', borderWidth: 1 },
    { left: 324, top: 41, width: 167, height: 165, show: true, borderColor: '#888', borderWidth: 1 },
    { left: 510, top: 41, width: 166, height: 165, show: true, borderColor: '#888', borderWidth: 1 },
    { left: 166, top: 290, width: 135, height: 180 },
    { left: 166, top: 487, width: 135, height: 36 },
    { left: 527, top: 289.5, width: 131, height: 77 },
    { left: 527, top: 423, width: 131, height: 123 },
    { left: 0, top: 0, width: 685, height: 1122 }
  ],
  xAxis: [
    volX(0, -7, 7, 1, true), volX(1, -6, 6, 2, false), volX(2, -6, 6, 2, false),
    barX(3), barX(4), barX(5), barX(6),
    { gridIndex: 7, type: 'value', min: 0, max: 685, show: false }
  ],
  yAxis: [
    volY(0, 8, '-log{s|10}(p{s|adj} value)'), volY(1, 6, '-log{s|10}(p value)'), volY(2, 6, ''),
    barY(3, bUpNames), barY(4, bDownNames), barY(5, eNames), barY(6, fNames),
    { gridIndex: 7, type: 'value', min: 0, max: 1122, inverse: true, show: false }
  ],
  visualMap: [{ type: 'continuous', show: false, min: -2, max: 2, dimension: 4, seriesIndex: boxSeriesIndex,
    inRange: { color: [FC_BLUE, FC_MID, FC_ORANGE] } }],
  graphic: G,
  series: series
};

const chart = echarts.init(document.getElementById('chart'));
chart.setOption(option);
</script>
</body>
</html>
